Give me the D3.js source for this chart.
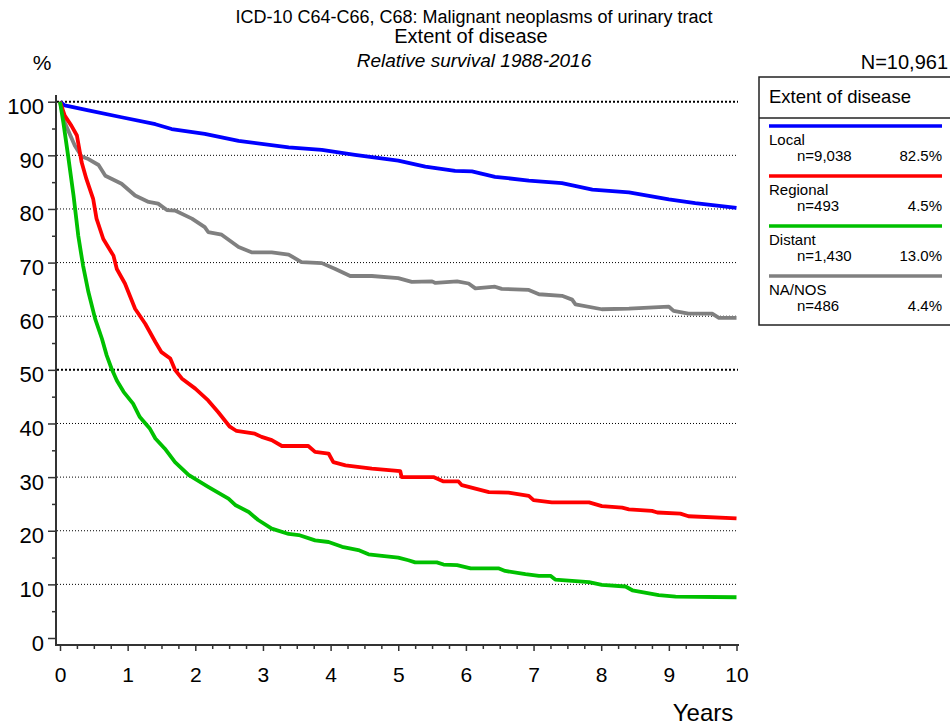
<!DOCTYPE html>
<html>
<head>
<meta charset="utf-8">
<script src="https://cdn.jsdelivr.net/npm/d3@7"></script>
<style>
  body { margin: 0; background: #fff; }
  text { font-family: "Liberation Sans", Arial, sans-serif; fill: #000; }
</style>
</head>
<body>
<script>
// survival curves, [years, percent]
var local = [[0,100],[0.07,99.3],[0.42,98.4],[0.91,97.1],[1.41,95.8],[1.65,94.9],[2.14,94.0],[2.64,92.7],[3.38,91.5],[3.87,91.0],[4.36,90.1],[5.0,89.0],[5.40,87.9],[5.84,87.1],[6.09,87.0],[6.43,86.0],[6.93,85.3],[7.42,84.8],[7.87,83.6],[8.41,83.1],[9.0,81.8],[9.39,81.1],[10,80.2]];
var regional = [[0,100],[0.07,97.4],[0.17,95.5],[0.25,93.7],[0.32,88.7],[0.39,85.6],[0.49,81.9],[0.54,78.2],[0.64,74.4],[0.79,71.3],[0.84,68.8],[0.96,66.1],[1.11,61.4],[1.26,58.6],[1.41,55.2],[1.50,53.3],[1.63,52.1],[1.70,50.0],[1.80,48.4],[2.0,46.5],[2.19,44.3],[2.34,42.1],[2.51,39.4],[2.61,38.6],[2.88,38.1],[2.98,37.5],[3.13,36.9],[3.28,35.8],[3.67,35.8],[3.77,34.7],[3.97,34.4],[4.04,32.8],[4.22,32.2],[4.61,31.6],[5.03,31.1],[5.05,30.0],[5.52,30.0],[5.67,29.2],[5.89,29.2],[5.94,28.5],[6.34,27.2],[6.63,27.1],[6.93,26.5],[7.0,25.7],[7.27,25.3],[7.82,25.3],[8.01,24.6],[8.31,24.3],[8.41,24.0],[8.75,23.7],[8.83,23.4],[9.17,23.2],[9.29,22.7],[10,22.3]];
var distant = [[0,100],[0.05,96.1],[0.12,89.9],[0.20,82.5],[0.27,75.0],[0.34,69.5],[0.42,64.5],[0.52,59.5],[0.62,55.8],[0.69,52.7],[0.76,50.3],[0.84,48.0],[0.94,45.9],[1.08,43.7],[1.18,41.2],[1.33,39.0],[1.41,37.2],[1.55,35.3],[1.70,32.8],[1.90,30.4],[2.19,28.2],[2.49,26.0],[2.59,24.8],[2.79,23.5],[2.93,22.0],[3.13,20.4],[3.38,19.4],[3.53,19.2],[3.77,18.2],[3.97,17.9],[4.17,17.0],[4.41,16.4],[4.56,15.6],[4.76,15.3],[5.0,15.0],[5.15,14.5],[5.25,14.1],[5.57,14.1],[5.67,13.7],[5.87,13.6],[6.07,13.0],[6.48,13.0],[6.58,12.5],[6.88,11.9],[7.08,11.6],[7.25,11.6],[7.32,10.9],[7.82,10.4],[8.01,9.9],[8.36,9.6],[8.46,8.9],[8.85,8.0],[9.1,7.7],[10,7.6]];
var nanos = [[0,100],[0.07,96.1],[0.22,91.8],[0.32,89.8],[0.42,89.3],[0.57,88.2],[0.67,86.2],[0.91,84.7],[1.11,82.5],[1.31,81.3],[1.45,81.0],[1.58,79.8],[1.70,79.7],[1.95,78.2],[2.14,76.6],[2.19,75.7],[2.39,75.2],[2.64,72.9],[2.84,71.9],[3.13,71.9],[3.38,71.5],[3.57,70.1],[3.87,69.9],[4.07,68.8],[4.29,67.5],[4.61,67.5],[5.0,67.1],[5.20,66.4],[5.50,66.5],[5.55,66.2],[5.87,66.5],[6.04,66.1],[6.14,65.2],[6.43,65.5],[6.53,65.1],[6.93,64.9],[7.08,64.1],[7.42,63.8],[7.57,63.1],[7.62,62.2],[8.01,61.3],[8.41,61.4],[9.0,61.8],[9.07,61.0],[9.29,60.5],[9.64,60.5],[9.74,59.7],[10,59.7]];

var seriesNames = ["Local", "Regional", "Distant", "NA/NOS"];
var seriesCounts = ["n=9,038", "n=493", "n=1,430", "n=486"];
var seriesShares = ["82.5%", "4.5%", "13.0%", "4.4%"];
var seriesColors = ["#0000ff", "#ff0000", "#00c000", "#808080"];
var seriesData = [local, regional, distant, nanos];

var yTicks = [0,10,20,30,40,50,60,70,80,90,100];
var yMinor = [5,15,25,35,45,55,65,75,85,95];
var xTicks = [0,1,2,3,4,5,6,7,8,9,10];

var svg = d3.select("body").append("svg").attr("width", 950).attr("height", 726);

var x = d3.scaleLinear().domain([0, 10]).range([60, 736.5]);
var y = d3.scaleLinear().domain([0, 100]).range([638, 101.7]);

// titles
svg.append("text").attr("x", 474).attr("y", 23).attr("text-anchor", "middle")
   .style("font-size", "18px").text("ICD-10 C64-C66, C68: Malignant neoplasms of urinary tract");
svg.append("text").attr("x", 471).attr("y", 43).attr("text-anchor", "middle")
   .style("font-size", "20px").text("Extent of disease");
svg.append("text").attr("x", 474).attr("y", 67).attr("text-anchor", "middle")
   .style("font-size", "19px").style("font-style", "italic").text("Relative survival 1988-2016");
svg.append("text").attr("x", 42).attr("y", 70).attr("text-anchor", "middle")
   .style("font-size", "21px").text("%");
svg.append("text").attr("x", 948).attr("y", 69).attr("text-anchor", "end")
   .style("font-size", "20px").text("N=10,961");

// grid
svg.append("g").selectAll("line").data(yTicks.filter(function(d){ return d > 0; }))
   .enter().append("line")
   .attr("x1", 57).attr("x2", 738)
   .attr("y1", function(d){ return y(d); }).attr("y2", function(d){ return y(d); })
   .attr("stroke", "#000")
   .attr("stroke-width", function(d){ return (d == 100 || d == 50) ? 2 : 1; })
   .attr("stroke-dasharray", function(d){ return (d == 100 || d == 50) ? "2,2" : "1,2"; });

// y axis
var yAxis = svg.append("g").attr("transform", "translate(56,0)")
   .call(d3.axisLeft(y).tickValues(yTicks).tickSize(8).tickPadding(4));
yAxis.select(".domain").remove();
yAxis.selectAll("text").style("font-size", "22px").attr("dy", "12px");
yAxis.selectAll("line").attr("stroke", "#333").attr("stroke-width", 1.5);

var yAxisMinor = svg.append("g").attr("transform", "translate(56,0)")
   .call(d3.axisLeft(y).tickValues(yMinor).tickSize(4).tickFormat(""));
yAxisMinor.select(".domain").remove();
yAxisMinor.selectAll("line").attr("stroke", "#333").attr("stroke-width", 1.5);

// x axis
var xAxis = svg.append("g").attr("transform", "translate(0,645)")
   .call(d3.axisBottom(x).tickValues(xTicks).tickSize(6).tickPadding(16));
xAxis.select(".domain").remove();
xAxis.selectAll("text").style("font-size", "21px");
xAxis.selectAll("line").attr("stroke", "#333").attr("stroke-width", 1.5);

var xAxisMinor = svg.append("g").attr("transform", "translate(0,645)")
   .call(d3.axisBottom(x).tickValues(d3.range(0.25, 10, 0.25).filter(function(d){ return d % 1 != 0; })).tickSize(4).tickFormat(""));
xAxisMinor.select(".domain").remove();
xAxisMinor.selectAll("line").attr("stroke", "#333").attr("stroke-width", 1.5);

svg.append("line").attr("x1", 56).attr("x2", 56).attr("y1", 95).attr("y2", 646)
   .attr("stroke", "#333").attr("stroke-width", 2);
svg.append("line").attr("x1", 55).attr("x2", 739).attr("y1", 645).attr("y2", 645)
   .attr("stroke", "#333").attr("stroke-width", 2);

svg.append("text").attr("x", 703).attr("y", 721).attr("text-anchor", "middle")
   .style("font-size", "24px").text("Years");

// curves
var line = d3.line()
   .x(function(d){ return x(d[0]); })
   .y(function(d){ return y(d[1]); });

// grey first, the others on top
var drawOrder = [3, 0, 1, 2];
drawOrder.forEach(function(i){
   svg.append("path")
      .attr("fill", "none")
      .attr("stroke", seriesColors[i])
      .attr("stroke-width", 3.8)
      .attr("stroke-linejoin", "round")
      .attr("d", line(seriesData[i]));
});

// legend
var legend = svg.append("g");
legend.append("rect").attr("x", 759).attr("y", 77).attr("width", 220).attr("height", 248)
   .attr("fill", "none").attr("stroke", "#222").attr("stroke-width", 1.5);
legend.append("line").attr("x1", 759).attr("x2", 950).attr("y1", 118).attr("y2", 118)
   .attr("stroke", "#222").attr("stroke-width", 1.5);
legend.append("text").attr("x", 769).attr("y", 103).style("font-size", "18.5px").text("Extent of disease");

var items = legend.selectAll("g.item").data(seriesNames).enter().append("g")
   .attr("class", "item")
   .attr("transform", function(d, i){ return "translate(0," + (126 + i * 50) + ")"; });
items.append("line").attr("x1", 769).attr("x2", 942).attr("y1", 0).attr("y2", 0)
   .attr("stroke", function(d, i){ return seriesColors[i]; }).attr("stroke-width", 3.5);
items.append("text").attr("x", 769).attr("y", 19).style("font-size", "15px").text(function(d){ return d; });
items.append("text").attr("x", 797).attr("y", 35).style("font-size", "15px").text(function(d, i){ return seriesCounts[i]; });
items.append("text").attr("x", 942).attr("y", 35).attr("text-anchor", "end").style("font-size", "15px").text(function(d, i){ return seriesShares[i]; });
</script>
</body>
</html>
